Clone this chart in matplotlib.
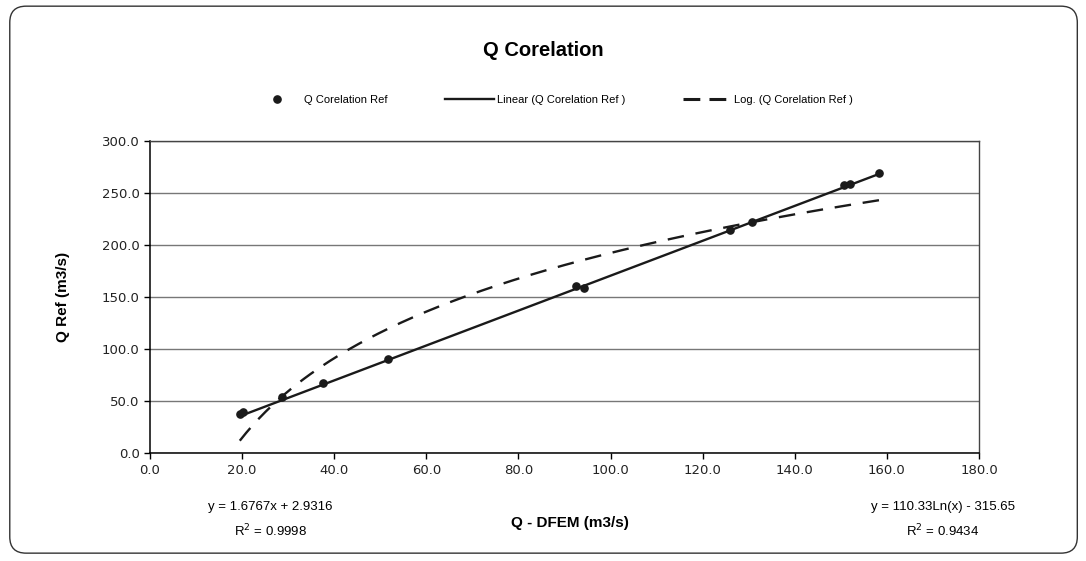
import numpy as np
import matplotlib
matplotlib.use("Agg")
import matplotlib.pyplot as plt
from matplotlib.lines import Line2D
from matplotlib.patches import FancyBboxPatch

# measured discharges
q_dfem = [19.5, 20.2, 28.7, 37.6, 51.7, 92.6, 94.2, 125.9, 130.8, 150.6, 152.0, 158.3]
q_ref = [37.7, 39.7, 54.1, 67.5, 90.6, 160.8, 159.0, 214.9, 222.6, 257.7, 258.7, 269.6]

# trendline coefficients as reported
lin_slope, lin_icpt = 1.6767, 2.9316
log_coef, log_icpt = 110.33, -315.65
lin_r2, log_r2 = 0.9998, 0.9434

x_ticks = np.arange(0, 181, 20)
y_ticks = np.arange(0, 301, 50)

fig = plt.figure(figsize=(10.86, 5.61), dpi=100)
ax = fig.add_axes([0.1381, 0.192, 0.7634, 0.5567])

# rounded chart frame
frame = FancyBboxPatch((0.009, 0.014), 0.983, 0.975, boxstyle="round,pad=0,rounding_size=0.015",
                       transform=fig.transFigure, fill=False, edgecolor="#333333", lw=1.0,
                       mutation_aspect=1086 / 561)
fig.patches.append(frame)

xs = np.linspace(min(q_dfem), max(q_dfem), 200)
ax.plot(xs, lin_slope * xs + lin_icpt, color="#1a1a1a", lw=1.7, zorder=3)
ax.plot(xs, log_coef * np.log(xs) + log_icpt, color="#1a1a1a", lw=1.7,
        dashes=(7, 5), zorder=3)
ax.plot(q_dfem, q_ref, "o", color="#1a1a1a", ms=5.2, zorder=4)

ax.set_xlim(0, 180)
ax.set_ylim(0, 300)
ax.set_xticks(x_ticks)
ax.set_yticks(y_ticks)
ax.set_xticklabels([f"{v:.1f}" for v in x_ticks], fontsize=9.5, family="DejaVu Sans", color="#222222")
ax.set_yticklabels([f"{v:.1f}" for v in y_ticks], fontsize=9.5, family="DejaVu Sans", color="#222222")
ax.tick_params(direction="out", length=4, width=1, color="black")
ax.yaxis.grid(True, color="#777777", lw=1)
ax.set_axisbelow(True)
for s in ["left", "bottom"]:
    ax.spines[s].set_color("black")
    ax.spines[s].set_linewidth(1.1)
for s in ["top", "right"]:
    ax.spines[s].set_color("#444444")
    ax.spines[s].set_linewidth(1.0)

ax.set_ylabel("Q Ref (m3/s)", fontsize=11, fontweight="bold", family="Liberation Sans", labelpad=23)
fig.text(0.525, 0.067, "Q - DFEM (m3/s)", fontsize=11, fontweight="bold",
         family="Liberation Sans", ha="center", va="center")
fig.text(0.5, 0.91, "Q Corelation", fontsize=14.5, fontweight="bold",
         family="Liberation Sans", ha="center", va="center")

# trendline equations
fig.text(0.249, 0.097, f"y = {lin_slope}x + {lin_icpt}", fontsize=9.5,
         family="Liberation Sans", ha="center", va="center")
fig.text(0.249, 0.053, f"R$^2$ = {lin_r2}", fontsize=9.5,
         family="Liberation Sans", ha="center", va="center")
fig.text(0.868, 0.097, f"y = {log_coef}Ln(x) - {abs(log_icpt)}", fontsize=9.5,
         family="Liberation Sans", ha="center", va="center")
fig.text(0.868, 0.053, f"R$^2$ = {log_r2}", fontsize=9.5,
         family="Liberation Sans", ha="center", va="center")

handles = [
    Line2D([], [], ls="none", marker="o", color="#1a1a1a", ms=5.2),
    Line2D([], [], color="#1a1a1a", lw=1.7),
    Line2D([], [], color="#1a1a1a", lw=2.2, dashes=(5.5, 3)),
]
labels = ["Q Corelation Ref", "Linear (Q Corelation Ref )", "Log. (Q Corelation Ref )"]
fig.legend(handles, labels, loc="center left", bbox_to_anchor=(0.233, 0.822), ncol=3,
           frameon=False, prop={"family": "Liberation Sans", "size": 8},
           handlelength=4.4, handletextpad=0.2, columnspacing=5.2,
           borderpad=0, borderaxespad=0)

fig.savefig("out.png", dpi=100)
